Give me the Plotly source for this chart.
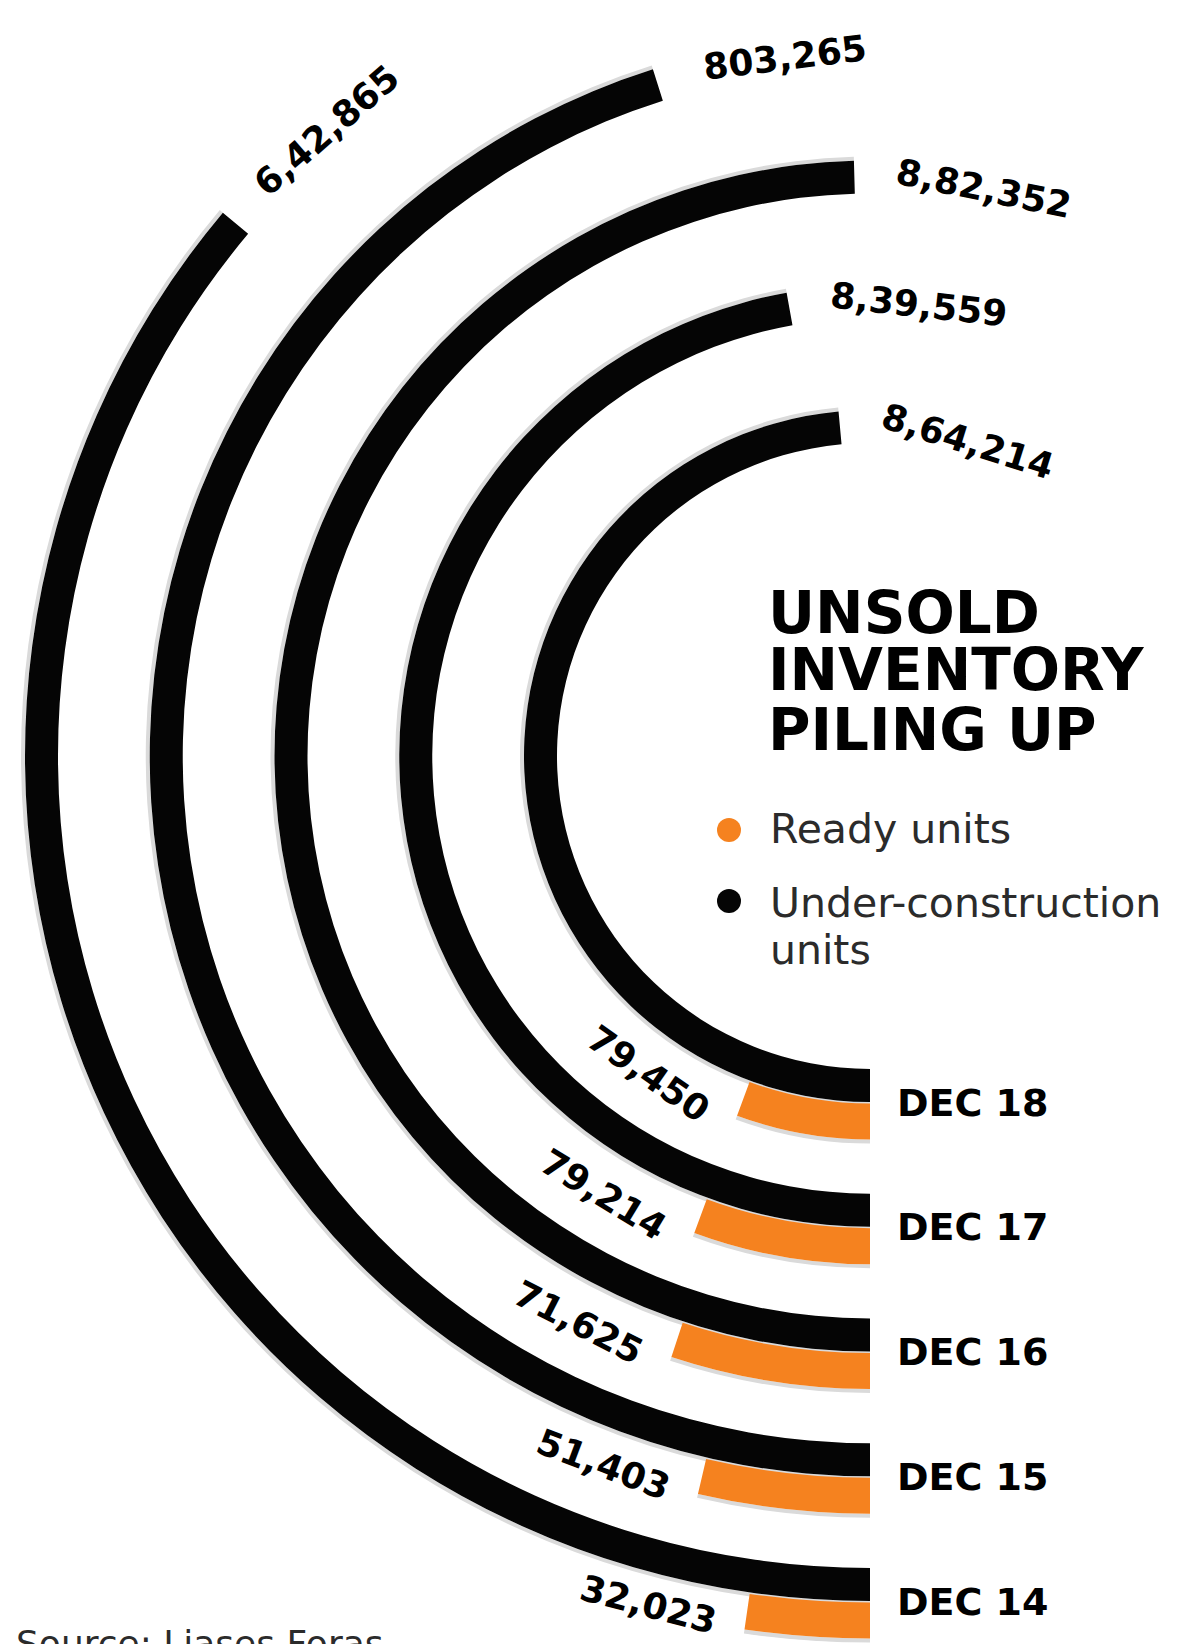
import math
import plotly.graph_objects as go

# ---------------- data ----------------
years = ["DEC 18", "DEC 17", "DEC 16", "DEC 15", "DEC 14"]
ring_slot = [1, 2, 3, 4, 5]                      # radial slot, inner -> outer
under_construction = [864214, 839559, 882352, 803265, 642865]
uc_labels = ["8,64,214", "8,39,559", "8,82,352", "803,265", "6,42,865"]
ready_units = [79450, 79214, 71625, 51403, 32023]
ready_labels = ["79,450", "79,214", "71,625", "51,403", "32,023"]

# ---------------- layout constants ----------------
W, H = 1183, 1644
CX, CY = 870.0, 756.0          # common centre of the rings (px)
UNIT = 124.75                  # px per radial slot
R0 = 204.75                    # px radius of slot value 0
UC_HALF_TURN = 890000          # under-construction value spanning 180 deg
READY_HALF_TURN = 705000       # ready-unit value spanning 180 deg

BLACK = "#050505"
ORANGE = "#F5821F"
SHADOW = "#dadada"

BLACK_T = 33 / UNIT
ORANGE_GAP = 1.5 / UNIT
ORANGE_T = 36 / UNIT
SHADOW_T = 4 / UNIT

READY_LABEL_ROFF = [58, 59, 58, 53, 48]   # px outward offset of ready labels
FONT_BOLD = "DejaVu Sans"
FONT_REG = "DejaVu Sans"


def uc_deg(v):
    return v / UC_HALF_TURN * 180.0


def ready_deg(v):
    return v / READY_HALF_TURN * 180.0


def slot_px(s):
    return R0 + UNIT * s


def sector_bbox(s0, s1):
    arc = s1 - s0
    a0 = s0 % 360
    a1 = a0 + arc
    ax0, ay0 = math.cos(math.radians(a0)), math.sin(math.radians(a0))
    ax1, ay1 = math.cos(math.radians(a1)), math.sin(math.radians(a1))
    if (a0 <= 90 and a1 >= 90) or (a0 > 90 and a1 >= 450):
        y1 = 1
    elif ay0 <= 0 and ay1 <= 0:
        y1 = 0
    else:
        y1 = max(ay0, ay1)
    if (a0 <= 180 and a1 >= 180) or (a0 > 180 and a1 >= 540):
        x0 = -1
    elif ax0 >= 0 and ax1 >= 0:
        x0 = 0
    else:
        x0 = min(ax0, ax1)
    if (a0 <= 270 and a1 >= 270) or (a0 > 270 and a1 >= 630):
        y0 = -1
    elif ay0 >= 0 and ay1 >= 0:
        y0 = 0
    else:
        y0 = min(ay0, ay1)
    if a1 >= 360:
        x1 = 1
    elif ax0 <= 0 and ax1 <= 0:
        x1 = 0
    else:
        x1 = max(ax0, ax1)
    return x0, y0, x1, y1


def polar_cfg(sector, radius):
    x0, y0, x1, y1 = sector_bbox(*sector)
    left, right = CX + radius * x0, CX + radius * x1
    top, bottom = CY - radius * y1, CY - radius * y0
    clamp = lambda v: min(1.0, max(0.0, v))
    return dict(
        domain=dict(x=[clamp(left / W), clamp(right / W)],
                    y=[clamp(1 - bottom / H), clamp(1 - top / H)]),
        sector=list(sector),
        bgcolor="rgba(0,0,0,0)",
        angularaxis=dict(visible=False, rotation=270, direction="clockwise",
                         showgrid=False, showline=False, ticks=""),
        radialaxis=dict(visible=False, range=[-R0 / UNIT, (radius - R0) / UNIT],
                        showgrid=False, showline=False, ticks=""),
    )


fig = go.Figure()


def add_band(idx, values, to_deg, base_off, thick, color, subplot, name):
    fig.add_trace(go.Barpolar(
        r=[thick] * len(idx),
        base=[ring_slot[i] + base_off for i in idx],
        theta=[0] * len(idx),
        offset=0,
        width=[to_deg(values[i]) for i in idx],
        marker=dict(color=color, line=dict(width=0)),
        subplot=subplot, name=name, showlegend=False, hoverinfo="skip",
    ))


inner = [0, 1, 2, 3]
outer = [4]
allr = [0, 1, 2, 3, 4]

# under-construction (black) bands, with a faint outer shadow
add_band(inner, under_construction, uc_deg, BLACK_T / 2, SHADOW_T, SHADOW, "polar", "shadow")
add_band(inner, under_construction, uc_deg, -BLACK_T / 2, BLACK_T, BLACK, "polar", "Under-construction units")
add_band(outer, under_construction, uc_deg, BLACK_T / 2, SHADOW_T, SHADOW, "polar2", "shadow")
add_band(outer, under_construction, uc_deg, -BLACK_T / 2, BLACK_T, BLACK, "polar2", "Under-construction units")

# ready units (orange) bands
o_base = BLACK_T / 2 + ORANGE_GAP
add_band(allr, ready_units, ready_deg, o_base + ORANGE_T, SHADOW_T, SHADOW, "polar3", "shadow")
add_band(allr, ready_units, ready_deg, o_base, ORANGE_T, ORANGE, "polar3", "Ready units")

fig.update_layout(
    polar=polar_cfg((85, 270), slot_px(4) + BLACK_T / 2 * UNIT + 5),
    polar2=polar_cfg((135, 270), slot_px(5) + BLACK_T / 2 * UNIT + 5),
    polar3=polar_cfg((245, 270), min(H - CY - 0.5,
                                      slot_px(5) + (o_base + ORANGE_T + SHADOW_T) * UNIT + 0.5)),
)


def paper(xpx, ypx):
    return xpx / W, 1 - ypx / H


annotations = []


def add_text(text, xpx, ypx, size, bold=True, angle=0, xanchor="center",
             yanchor="middle", color="#000000"):
    x, y = paper(xpx, ypx)
    annotations.append(dict(
        text=text, x=x, y=y, xref="paper", yref="paper", showarrow=False,
        xanchor=xanchor, yanchor=yanchor, textangle=angle,
        font=dict(family=FONT_BOLD if bold else FONT_REG, size=size,
                  color=color, weight=700 if bold else 400),
    ))


# labels at the end of the under-construction arcs
for i in allr:
    r = slot_px(ring_slot[i])
    theta = 270 - uc_deg(under_construction[i]) - math.degrees(130 / r)
    t = math.radians(theta)
    add_text(uc_labels[i], CX + r * math.cos(t), CY - r * math.sin(t), 36,
             angle=90 - theta)

# labels after the ready-unit arcs
for i in allr:
    r = slot_px(ring_slot[i]) + READY_LABEL_ROFF[i]
    phi = ready_deg(ready_units[i]) + math.degrees(99 / r)
    t = math.radians(270 - phi)
    add_text(ready_labels[i], CX + r * math.cos(t), CY - r * math.sin(t), 36,
             angle=phi)

# year labels
for i in allr:
    add_text(years[i], 895, CY + slot_px(ring_slot[i]) + 17, 38, xanchor="left")

# title
for line, yc in zip(["UNSOLD", "INVENTORY", "PILING UP"], [613, 670, 730]):
    add_text(line, 766, yc, 58, xanchor="left")

# legend
add_text("Ready units", 768, 829, 41, bold=False, xanchor="left", color="#2b2b2b")
add_text("Under-construction", 768, 903, 41, bold=False, xanchor="left", color="#2b2b2b")
add_text("units", 768, 950, 41, bold=False, xanchor="left", color="#2b2b2b")

# source
add_text("Source: Liases Foras", 14, 1643, 36, bold=False, xanchor="left", color="#2b2b2b")

shapes = []
for (xc, yc, col) in [(729, 830, ORANGE), (729, 901, BLACK)]:
    x, y = paper(xc, yc)
    shapes.append(dict(type="circle", xref="paper", yref="paper",
                       xsizemode="pixel", ysizemode="pixel",
                       xanchor=x, yanchor=y, x0=-12, x1=12, y0=-12, y1=12,
                       fillcolor=col, line=dict(width=0)))

fig.update_layout(
    width=W, height=H,
    margin=dict(l=0, r=0, t=0, b=0),
    paper_bgcolor="white", plot_bgcolor="white",
    showlegend=False,
    annotations=annotations,
    shapes=shapes,
)

fig.write_html("out.html")
